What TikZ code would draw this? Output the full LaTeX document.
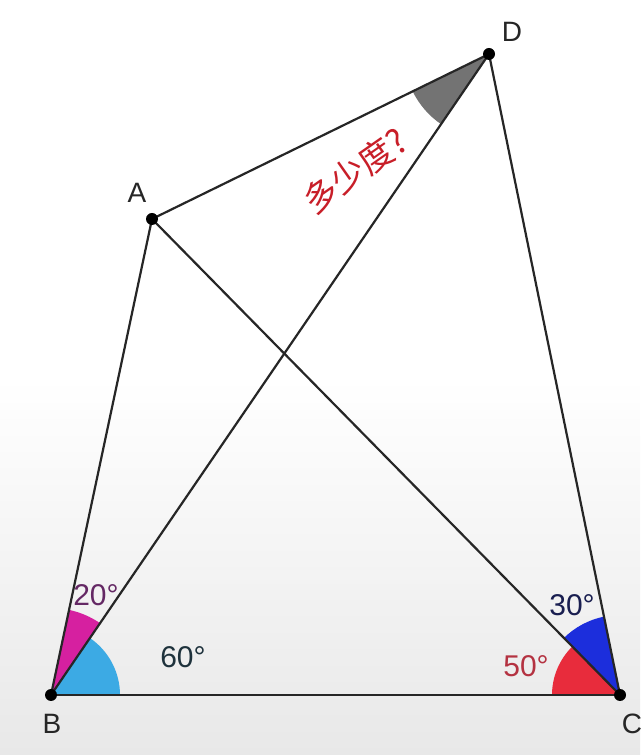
\documentclass[tikz,border=0pt]{standalone}
\usepackage{fontspec}
\setmainfont{Liberation Sans}
\newfontfamily\cjk{Noto Sans CJK SC}
\begin{document}
\begin{tikzpicture}[x=1pt,y=1pt,
  seg/.style={line width=2.2pt,black!85},
  dotnode/.style={circle,fill=black,inner sep=0pt,minimum size=12pt},
  ptlabel/.style={font=\fontsize{28}{28}\selectfont,text=black!85},
  anglabel/.style={font=\fontsize{30}{30}\selectfont}]
\useasboundingbox (0,0) rectangle (640,755);
\shade[top color=white,bottom color=black!9,middle color=white] (0,0) rectangle (640,755);
\coordinate (B) at (51,60);
\coordinate (C) at (620,60);
\coordinate (A) at (152,536);
\coordinate (D) at (489,701);
% sectors
\fill[fill={rgb,255:red,214;green,32;blue,160}] (B) -- ++(55.65:87) arc[start angle=55.65,end angle=78.02,radius=87] -- cycle;
\fill[fill={rgb,255:red,60;green,170;blue,228}] (B) -- ++(0:69) arc[start angle=0,end angle=55.65,radius=69] -- cycle;
\fill[fill={rgb,255:red,232;green,44;blue,60}] (C) -- ++(134.5:68) arc[start angle=134.5,end angle=180,radius=68] -- cycle;
\fill[fill={rgb,255:red,28;green,46;blue,220}] (C) -- ++(101.55:80) arc[start angle=101.55,end angle=134.5,radius=80] -- cycle;
\fill[fill={rgb,255:red,115;green,115;blue,115}] (D) -- ++(206.1:85) arc[start angle=206.1,end angle=235.65,radius=85] -- cycle;
% segments
\draw[seg] (B) -- (C);
\draw[seg] (B) -- (A);
\draw[seg] (B) -- (D);
\draw[seg] (A) -- (D);
\draw[seg] (A) -- (C);
\draw[seg] (D) -- (C);
% points
\node[dotnode] (nA) at (A) {};
\node[dotnode] (nB) at (B) {};
\node[dotnode] (nC) at (C) {};
\node[dotnode] (nD) at (D) {};
\node[ptlabel] (lA) at (137,562) {A};
\node[ptlabel] (lB) at (52,31) {B};
\node[ptlabel] (lC) at (632,31) {C};
\node[ptlabel] (lD) at (512,723) {D};
% angle labels
\node[anglabel,text={rgb,255:red,100;green,40;blue,100}] (t20) at (96,160) {20°};
\node[anglabel,text={rgb,255:red,30;green,50;blue,60}] (t60) at (183,98) {60°};
\node[anglabel,text={rgb,255:red,25;green,30;blue,80}] (t30) at (572,150) {30°};
\node[anglabel,text={rgb,255:red,180;green,50;blue,65}] (t50) at (526,89) {50°};
\node[font=\cjk\fontsize{34}{34}\selectfont,text={rgb,255:red,200;green,30;blue,40},rotate=35] (q) at (355,584) {多少度?};
\end{tikzpicture}
\end{document}
